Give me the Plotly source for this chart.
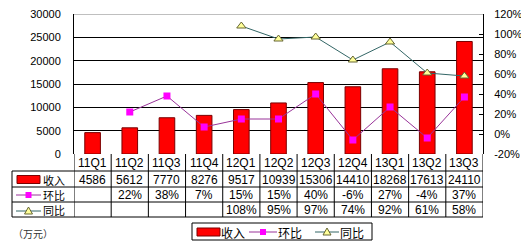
import plotly.graph_objects as go

categories = ["11Q1", "11Q2", "11Q3", "11Q4", "12Q1", "12Q2", "12Q3", "12Q4", "13Q1", "13Q2", "13Q3"]
revenue = [4586, 5612, 7770, 8276, 9517, 10939, 15306, 14410, 18268, 17613, 24110]
qoq = [None, 0.22, 0.38, 0.07, 0.15, 0.15, 0.40, -0.06, 0.27, -0.04, 0.37]
yoy = [None, None, None, None, 1.08, 0.95, 0.97, 0.74, 0.92, 0.61, 0.58]
left_ticks = [0, 5000, 10000, 15000, 20000, 25000, 30000]
right_ticks = [-0.2, 0.0, 0.2, 0.4, 0.6, 0.8, 1.0, 1.2]
right_ticktext = ["-20%", "0%", "20%", "40%", "60%", "80%", "100%", "120%"]
series_names = ["收入", "环比", "同比"]
unit_label = "（万元）"

W, H = 521, 245
L, R, T, B = 74, 483, 14, 154
FONT = "Liberation Sans"
CJK = "Noto Sans CJK SC"
BAR_C, BAR_LINE = "#FF0000", "#7A0000"
QOQ_LINE, QOQ_MK = "#993399", "#FF00FF"
YOY_LINE, YOY_MK, YOY_MKL = "#336666", "#FFFF99", "#666633"


def py(p):  # pixel y -> paper y
    return (B - p) / (B - T)


def px(p):  # pixel x -> paper x
    return (p - L) / (R - L)


fig = go.Figure()
fig.add_trace(go.Bar(x=categories, y=revenue, name=series_names[0], width=0.42,
                     marker=dict(color=BAR_C, line=dict(color=BAR_LINE, width=1))))
fig.add_trace(go.Scatter(x=categories, y=qoq, name=series_names[1], yaxis="y2", mode="lines+markers",
                         line=dict(color=QOQ_LINE, width=1),
                         marker=dict(symbol="square", size=7, color=QOQ_MK, line=dict(width=0))))
fig.add_trace(go.Scatter(x=categories, y=yoy, name=series_names[2], yaxis="y2", mode="lines+markers",
                         line=dict(color=YOY_LINE, width=1),
                         marker=dict(symbol="triangle-up", size=8, color=YOY_MK, line=dict(color=YOY_MKL, width=1))))

shapes = []
ann = []
# top border gray
shapes.append(dict(type="line", xref="paper", yref="y", x0=0, x1=1, y0=30000, y1=30000,
                   line=dict(color="#808080", width=1)))
# table horizontal lines
rows_px = [171, 187, 202, 217]
for r in rows_px:
    shapes.append(dict(type="line", xref="paper", yref="paper", x0=px(12), x1=1, y0=py(r), y1=py(r),
                       line=dict(color="black", width=1)))
# vertical lines
for i in range(len(categories) + 1):
    shapes.append(dict(type="line", xref="x", yref="paper", x0=i - 0.5, x1=i - 0.5, y0=py(154), y1=py(217),
                       line=dict(color="black", width=1)))
shapes.append(dict(type="line", xref="paper", yref="paper", x0=px(12), x1=px(12), y0=py(171), y1=py(217),
                   line=dict(color="black", width=1)))

row_centers = [163, 179.5, 195, 210]


def num_text(text, c, yc):
    ann.append(dict(x=c, xref="x", y=py(yc), yref="paper", text=text, showarrow=False,
                    xanchor="center", yanchor="middle", font=dict(family=FONT, size=12, color="black")))


for i, c in enumerate(categories):
    num_text(c, c, row_centers[0])
    num_text(str(revenue[i]), c, row_centers[1])
    if qoq[i] is not None:
        num_text(f"{round(qoq[i]*100)}%", c, row_centers[2])
    if yoy[i] is not None:
        num_text(f"{round(yoy[i]*100)}%", c, row_centers[3])


def key_bar(x0, x1, yc):
    shapes.append(dict(type="rect", xref="paper", yref="paper", x0=px(x0), x1=px(x1), y0=py(yc + 4), y1=py(yc - 4),
                       fillcolor=BAR_C, line=dict(color=BAR_LINE, width=1)))


def key_qoq(x0, x1, yc):
    xm = (x0 + x1) / 2
    shapes.append(dict(type="line", xref="paper", yref="paper", x0=px(x0), x1=px(x1), y0=py(yc), y1=py(yc),
                       line=dict(color=QOQ_LINE, width=1)))
    shapes.append(dict(type="rect", xref="paper", yref="paper", x0=px(xm - 3), x1=px(xm + 3), y0=py(yc + 3),
                       y1=py(yc - 3), fillcolor=QOQ_MK, line=dict(width=0)))


def key_yoy(x0, x1, yc):
    xm = (x0 + x1) / 2
    shapes.append(dict(type="line", xref="paper", yref="paper", x0=px(x0), x1=px(x1), y0=py(yc), y1=py(yc),
                       line=dict(color=YOY_LINE, width=1)))
    shapes.append(dict(type="path", xref="paper", yref="paper",
                       path=f"M {px(xm-4)} {py(yc+3)} L {px(xm)} {py(yc-4)} L {px(xm+4)} {py(yc+3)} Z",
                       fillcolor=YOY_MK, line=dict(color=YOY_MKL, width=1)))


def cjk_text(text, x, yc, size=11, color="black"):
    ann.append(dict(x=px(x), xref="paper", y=py(yc), yref="paper", text=text, showarrow=False,
                    xanchor="left", yanchor="middle", font=dict(family=CJK, size=size, color=color)))


# row legend keys in table
key_bar(17, 40, 179.5)
key_qoq(16, 41, 195)
key_yoy(16, 41, 211)
for name, rc in zip(series_names, row_centers[1:]):
    cjk_text(name, 41, rc, size=11)

# bottom legend box
shapes.append(dict(type="rect", xref="paper", yref="paper", x0=px(192), x1=px(372), y0=py(240), y1=py(223),
                   fillcolor="rgba(0,0,0,0)", line=dict(color="black", width=1)))
key_bar(197, 220, 232)
key_qoq(249, 277, 232)
key_yoy(315, 339, 232)
for name, xs in zip(series_names, [219, 276, 338]):
    cjk_text(name, xs, 232, size=12)

cjk_text(unit_label, 11, 233, size=10, color="#333333")

fig.update_layout(
    width=W, height=H,
    margin=dict(l=L, r=W - R, t=T, b=H - B, pad=0, autoexpand=False),
    paper_bgcolor="white", plot_bgcolor="white",
    font=dict(family=FONT, size=11, color="black"),
    showlegend=False,
    xaxis=dict(showticklabels=False, ticks="", showgrid=False, showline=False, zeroline=False,
               range=[-0.5, len(categories) - 0.5]),
    yaxis=dict(range=[0, 30000], tickvals=left_ticks, ticktext=[str(v) for v in left_ticks],
               showgrid=True, gridcolor="black", gridwidth=1, zeroline=False,
               showline=True, linecolor="black", linewidth=1, ticks="", ticklabelstandoff=10),
    yaxis2=dict(range=[-0.2, 1.2], tickvals=right_ticks, ticktext=right_ticktext, overlaying="y",
                side="right", showgrid=False, zeroline=False, showline=True, linecolor="black",
                linewidth=1, ticks="inside", ticklen=4, tickcolor="black", ticklabelstandoff=8),
    shapes=shapes, annotations=ann,
)

fig.write_html("out.html")
